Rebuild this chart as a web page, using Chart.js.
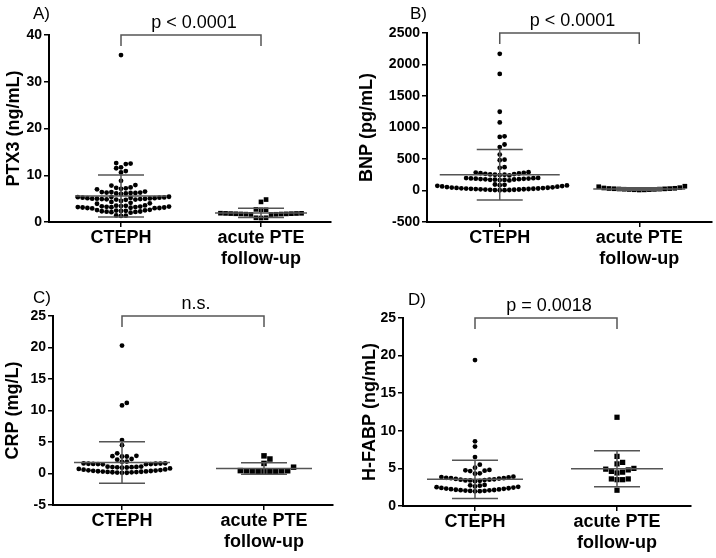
<!DOCTYPE html>
<html lang="en">
<head>
  <meta charset="UTF-8" />
  <title>CTEPH vs acute PTE follow-up</title>
  <script src="https://cdn.jsdelivr.net/npm/chart.js"></script>
  <style>
    body {
      margin: 0;
      background: #fff;
    }
    #wrap {
      position: relative;
      width: 716px;
      height: 558px;
    }
    canvas {
      position: absolute;
    }
  </style>
</head>
<body>
  <div id="wrap">
    <canvas id="pA" width="358" height="279" style="left:0;top:0"></canvas>
    <canvas id="pB" width="358" height="279" style="left:358px;top:0"></canvas>
    <canvas id="pC" width="358" height="279" style="left:0;top:279px"></canvas>
    <canvas id="pD" width="358" height="279" style="left:358px;top:279px"></canvas>
  </div>

  <script>
    // ---- data ----
    const groupLabels = ['CTEPH', ['acute PTE', 'follow-up']];
    const panelLetters = ['A)', 'B)', 'C)', 'D)'];
    const pValues = ['p < 0.0001', 'p < 0.0001', 'n.s.', 'p = 0.0018'];
    const yTitles = ['PTX3 (ng/mL)', 'BNP (pg/mL)', 'CRP (mg/L)', 'H-FABP (ng/mL)'];

    const ptx3Ticks = [0, 10, 20, 30, 40];
    const bnpTicks = [-500, 0, 500, 1000, 1500, 2000, 2500];
    const crpTicks = [-5, 0, 5, 10, 15, 20, 25];
    const hfabpTicks = [0, 5, 10, 15, 20, 25];

    const ptx3Cteph = [35.7, 12.4, 12.5, 12.6, 11.5, 11.7, 10.6, 10.9, 8.8, 7.8, 7.9,
      7.0, 7.1, 7.2, 7.3, 7.4, 6.0, 6.1, 6.1, 6.2, 6.2, 6.3, 6.3, 6.4, 6.4, 6.5,
      4.75, 4.8, 4.8, 4.85, 4.9, 4.9, 4.95, 5.0, 5.0, 5.05, 5.1, 5.1, 5.15, 5.2, 5.2, 5.25, 5.3, 5.35, 5.4,
      3.9, 4.0, 4.1, 4.3, 4.5,
      2.9, 2.95, 3.0, 3.0, 3.05, 3.1, 3.1, 3.15, 3.2, 3.2, 3.25, 3.3, 3.3, 3.35, 3.4, 3.45, 3.5, 3.55,
      2.0, 2.1, 2.15, 2.2, 2.25, 2.3, 2.35, 2.4, 2.45, 2.5, 2.55, 2.6,
      1.3, 1.35, 1.4];
    const ptx3Acute = [4.8, 4.3, 2.6, 2.6, 2.7, 1.6, 1.62, 1.65, 1.68, 1.7, 1.72, 1.74, 1.76, 1.78,
      1.8, 1.82, 1.84, 1.86, 1.88, 0.9, 0.9, 0.85];
    const ptx3Mean = [5.55, 1.95];
    const ptx3Sd = [4.5, 1.0];

    const bnpCteph = [2170, 1850, 1250, 1080, 860, 850, 730, 690, 570, 490, 480, 370, 360,
      290, 285, 280, 275, 270, 265, 260, 255, 250, 250, 245, 240,
      200, 198, 195, 192, 190, 188, 185, 182, 180, 178, 175, 172, 170, 168, 165, 160,
      95, 90, 85, 80, 75, 70, 65, 60, 55, 50, 47, 44, 41, 38, 35, 32, 30, 28, 26, 24, 22, 20,
      18, 16, 14, 12, 10, 8, 6, 5, 4];
    const bnpAcute = [68, 60, 45, 40, 35, 32, 30, 28, 26, 24, 22, 20, 18, 16, 14, 12, 10, 8];
    const bnpMean = [250, 25];
    const bnpSd = [400, 20];

    const crpCteph = [20.3, 11.2, 10.8, 5.3, 4.5, 3.2, 2.8, 2.75, 2.7, 2.7, 2.3, 2.2, 1.9, 1.85,
      1.45, 1.48, 1.5, 1.5, 1.52, 1.55, 1.55, 1.58, 1.6, 1.62,
      0.92, 0.95, 0.98, 1.0, 1.02, 1.05, 1.08, 1.1,
      0.1, 0.12, 0.15, 0.18, 0.2, 0.22, 0.25, 0.28, 0.3, 0.33, 0.36, 0.4, 0.43, 0.46, 0.5, 0.55,
      0.6, 0.65, 0.72, 0.8];
    const crpAcute = [2.8, 2.3, 1.6, 1.0, 0.3, 0.32, 0.34, 0.36, 0.38, 0.4, 0.42, 0.44, 0.46];
    const crpMean = [1.75, 0.8];
    const crpSd = [3.3, 0.9];

    const hfabpCteph = [19.4, 8.6, 7.9, 6.5, 5.5, 5.1, 4.8, 4.75, 4.7, 4.65, 4.35, 4.3,
      3.3, 3.35, 3.4, 3.4, 3.45, 3.5, 3.5, 3.55, 3.6, 3.65, 3.7, 3.7, 3.75, 3.8, 3.85, 3.9,
      2.8, 2.75, 2.7,
      1.95, 1.97, 2.0, 2.02, 2.05, 2.08, 2.1, 2.13, 2.16, 2.2, 2.24, 2.28, 2.32, 2.36, 2.4, 2.45,
      2.5, 2.55, 2.6];
    const hfabpAcute = [11.8, 6.6, 5.8, 5.6, 5.0, 4.9, 4.8, 4.6, 4.5, 4.4, 3.6, 3.6, 3.5, 3.5, 2.1];
    const hfabpMean = [3.55, 4.95];
    const hfabpSd = [2.55, 2.4];

    // ---- panel layout (pixels inside each 358x279 canvas) ----
    const panels = [
      { id: 'pA', values: [ptx3Cteph, ptx3Acute], mean: ptx3Mean, sd: ptx3Sd, ticks: ptx3Ticks,
        area: { left: 49, top: 35, right: 331, bottom: 222 }, cats: [121, 261],
        sq: 3.3, meanHalf: [46, 46], titlePad: 5, letterPos: [33, 19] },
      { id: 'pB', values: [bnpCteph, bnpAcute], mean: bnpMean, sd: bnpSd, ticks: bnpTicks,
        area: { left: 69, top: 33, right: 355, bottom: 222 }, cats: [142, 282],
        sq: 3.3, meanHalf: [60, 46], titlePad: 0, letterPos: [52, 19] },
      { id: 'pC', values: [crpCteph, crpAcute], mean: crpMean, sd: crpSd, ticks: crpTicks,
        area: { left: 53, top: 37, right: 333, bottom: 226 }, cats: [122, 264],
        sq: 3.9, meanHalf: [48, 48], titlePad: 4, letterPos: [33, 24] },
      { id: 'pD', values: [hfabpCteph, hfabpAcute], mean: hfabpMean, sd: hfabpSd, ticks: hfabpTicks,
        area: { left: 45, top: 39, right: 333, bottom: 227 }, cats: [117, 259],
        sq: 3.7, meanHalf: [48, 46], titlePad: 3, letterPos: [50, 26] }
    ];

    const FONT = "'Liberation Sans', Arial, sans-serif";
    Chart.defaults.font.family = FONT;
    Chart.defaults.color = '#000';

    // simple beeswarm: lowest values sit at the centre, others step outwards until they don't overlap
    function swarm(chart, values, center, diam) {
      const xs = chart.scales.x, ys = chart.scales.y;
      const cx = xs.getPixelForValue(center);
      const pts = values.map(v => ({ v, py: ys.getPixelForValue(v) })).sort((a, b) => a.v - b.v);
      const placed = [];
      pts.forEach(p => {
        for (let k = 0; k < 200; k++) {
          const off = (k === 0 ? 0 : (k % 2 ? 1 : -1) * Math.ceil(k / 2)) * diam;
          const hit = placed.some(q => Math.hypot(q.px - (cx + off), q.py - p.py) < diam - 0.01);
          if (!hit) { p.px = cx + off; break; }
        }
        placed.push(p);
      });
      return placed.map(p => ({ x: xs.getValueForPixel(p.px), y: p.v }));
    }

    function decor(p, idx) {
      return {
        id: 'decor',
        afterDatasetsDraw(chart) {
          const { ctx, scales: { x, y } } = chart;
          ctx.save();
          ctx.strokeStyle = '#555';
          ctx.lineWidth = 1.5;
          p.mean.forEach((m, i) => {
            const cx = x.getPixelForValue(i);
            const ym = y.getPixelForValue(m);
            const yt = y.getPixelForValue(m + p.sd[i]);
            const yb = y.getPixelForValue(m - p.sd[i]);
            const cap = 23;
            ctx.beginPath();
            ctx.moveTo(cx - p.meanHalf[i], ym); ctx.lineTo(cx + p.meanHalf[i], ym);
            ctx.moveTo(cx - cap, yt); ctx.lineTo(cx + cap, yt);
            ctx.moveTo(cx - cap, yb); ctx.lineTo(cx + cap, yb);
            ctx.moveTo(cx, yt); ctx.lineTo(cx, yb);
            ctx.stroke();
          });
          ctx.restore();
        },
        afterDraw(chart) {
          const { ctx, scales: { x, y } } = chart;
          const x0 = x.getPixelForValue(0), x1 = x.getPixelForValue(1);
          const top = y.getPixelForValue(y.max);
          ctx.save();
          ctx.strokeStyle = '#555';
          ctx.lineWidth = 1.5;
          ctx.beginPath();
          ctx.moveTo(x0, top + 11);
          ctx.lineTo(x0, top);
          ctx.lineTo(x1, top);
          ctx.lineTo(x1, top + 11);
          ctx.stroke();
          ctx.fillStyle = '#000';
          ctx.textAlign = 'center';
          ctx.textBaseline = 'alphabetic';
          ctx.font = '18px ' + FONT;
          ctx.fillText(pValues[idx], (x0 + x1) / 2 + 3, top - 7);
          ctx.textAlign = 'left';
          ctx.font = '17px ' + FONT;
          ctx.fillText(panelLetters[idx], p.letterPos[0], p.letterPos[1]);
          ctx.restore();
        }
      };
    }

    panels.forEach((p, idx) => {
      const a = p.area;
      const unit = p.cats[1] - p.cats[0];
      const xMin = -(p.cats[0] - a.left) / unit;
      const xMax = 1 + (a.right - p.cats[1]) / unit;
      const canvas = document.getElementById(p.id);

      const chart = new Chart(canvas, {
        type: 'scatter',
        data: {
          datasets: [
            { data: p.values[0].map(v => ({ x: 0, y: v })), pointStyle: 'circle', pointRadius: 2.4,
              backgroundColor: '#000', borderWidth: 0 },
            { data: p.values[1].map(v => ({ x: 1, y: v })), pointStyle: 'rect', pointRadius: p.sq,
              backgroundColor: '#000', borderWidth: 0 }
          ]
        },
        options: {
          responsive: false,
          animation: false,
          events: [],
          layout: { padding: { left: 0, top: a.top, right: 358 - a.right, bottom: 0 } },
          plugins: { legend: { display: false }, tooltip: { enabled: false } },
          scales: {
            x: {
              type: 'linear',
              min: xMin,
              max: xMax,
              afterBuildTicks: s => { s.ticks = [{ value: 0 }, { value: 1 }]; },
              afterFit: s => { s.height = 279 - a.bottom; },
              ticks: {
                callback: (v, i) => groupLabels[i],
                font: { size: 18, weight: 'bold', lineHeight: 1.15 },
                color: '#000',
                padding: 1,
                maxRotation: 0,
                autoSkip: false
              },
              grid: { drawOnChartArea: false, drawTicks: true, tickLength: 5, color: '#000', lineWidth: 1.5 },
              border: { display: true, color: '#000', width: 2 }
            },
            y: {
              min: p.ticks[0],
              max: p.ticks[p.ticks.length - 1],
              afterBuildTicks: s => { s.ticks = p.ticks.map(v => ({ value: v })); },
              afterFit: s => { s.width = a.left; },
              ticks: { callback: v => String(v), font: { size: 14, weight: 'bold' }, color: '#000', padding: 2 },
              grid: { drawOnChartArea: false, drawTicks: true, tickLength: 5, color: '#000', lineWidth: 1.5 },
              border: { display: true, color: '#000', width: 2 },
              title: {
                display: true,
                text: yTitles[idx],
                color: '#000',
                font: { size: 18, weight: 'bold', lineHeight: 1 },
                padding: { top: p.titlePad, bottom: 0 }
              }
            }
          }
        },
        plugins: [decor(p, idx)]
      });

      chart.data.datasets[0].data = swarm(chart, p.values[0], 0, 4.8);
      chart.data.datasets[1].data = swarm(chart, p.values[1], 1, p.sq * 1.414 + 0.4);
      chart.update('none');
    });
  </script>
</body>
</html>
